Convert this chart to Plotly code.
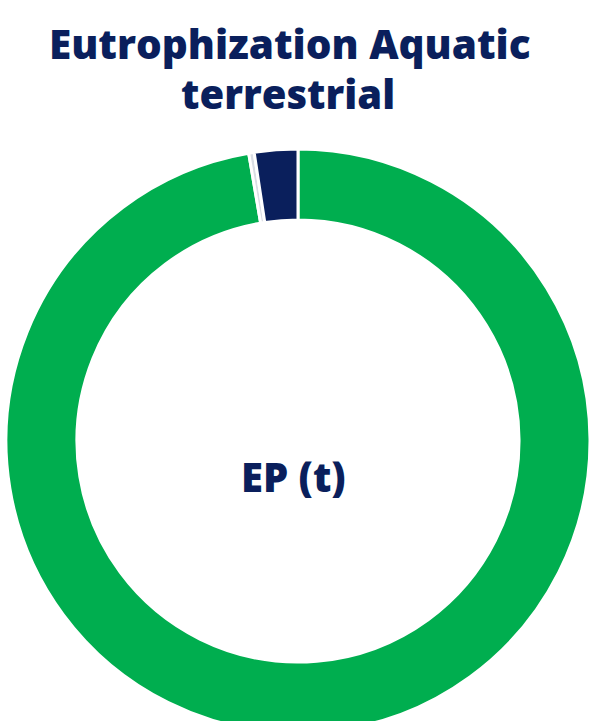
import plotly.graph_objects as go

# Share of eutrophication potential by source (%)
labels = ["Agriculture", "Other", "Industry"]
values = [97.3, 0.3, 2.4]
colors = ["#00AE4F", "#D9DDE4", "#0A1F5C"]

title_lines = ["Eutrophization Aquatic", "terrestrial"]
center_text = "EP (t)"

W, H = 591, 733
ML, MR, MT, MB = 6, 1, 149, 0
PW, PH = W - ML - MR, H - MT - MB
NAVY = "#0A1F5C"
FONT = "Open Sans"


def px_x(x):
    return (x - ML) / PW


def px_y(y):
    return (H - MB - y) / PH


fig = go.Figure(
    go.Pie(
        labels=labels,
        values=values,
        hole=0.757,
        sort=False,
        direction="clockwise",
        rotation=0,
        marker=dict(colors=colors, line=dict(color="white", width=3)),
        textinfo="none",
        hoverinfo="label+percent",
        showlegend=False,
    )
)

annotations = [
    dict(text=title_lines[0], x=px_x(290), y=px_y(43), size=40.5),
    dict(text=title_lines[1], x=px_x(288), y=px_y(93), size=40),
    dict(text=center_text, x=px_x(293.5), y=px_y(476), size=40),
]

fig.update_layout(
    width=W,
    height=H,
    margin=dict(l=ML, r=MR, t=MT, b=MB),
    paper_bgcolor="white",
    plot_bgcolor="white",
    font=dict(family=FONT, color=NAVY),
    annotations=[
        dict(
            text=a["text"],
            x=a["x"],
            y=a["y"],
            xref="paper",
            yref="paper",
            xanchor="center",
            yanchor="middle",
            showarrow=False,
            font=dict(size=a["size"], family=FONT, weight=800, color=NAVY),
        )
        for a in annotations
    ],
)

fig.write_html("out.html")
